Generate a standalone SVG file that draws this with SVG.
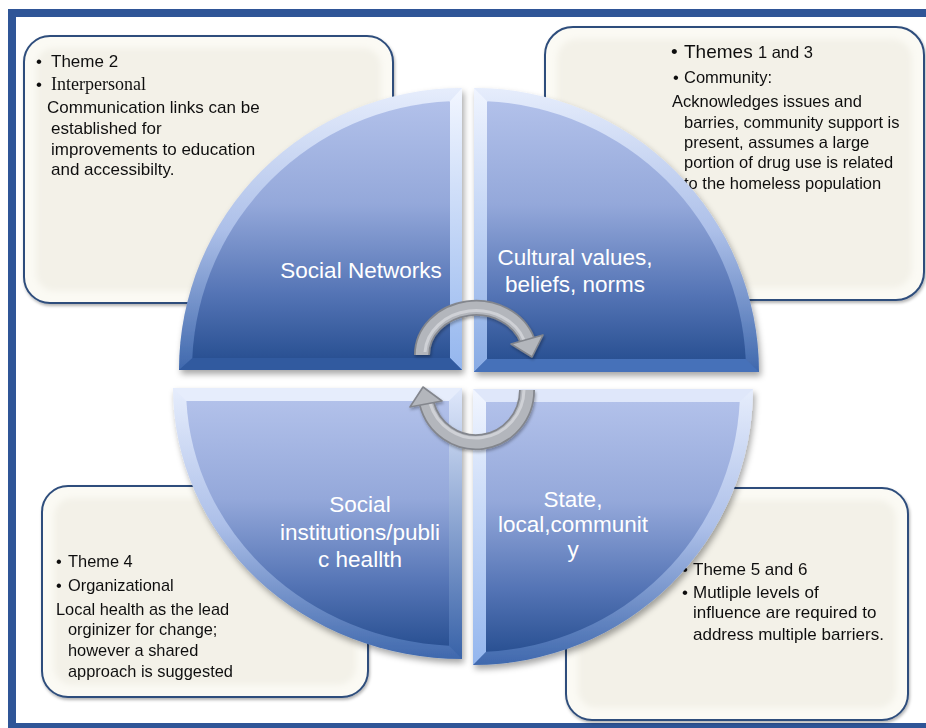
<svg xmlns="http://www.w3.org/2000/svg" width="926" height="728" viewBox="0 0 926 728">
  <style>
    .frame { fill: #2f5597; }
    .box-outer { fill: #fbfaf4; stroke: #2f4e7c; stroke-width: 2; }
    .box-inner { fill: #f3f1e8; }
    .note { font-family: "Liberation Sans", Arial, sans-serif; fill: #111; }
    .serif { font-family: "Liberation Serif", "Times New Roman", serif; }
    .label { font-family: "Liberation Sans", Arial, sans-serif; font-size: 22.5px; fill: #ffffff; text-anchor: middle; }
    .arrow-base { fill: none; stroke: #83868d; stroke-width: 16; }
    .arrow-body { fill: none; stroke: #b3b6bc; stroke-width: 12.5; }
    .arrow-glint { fill: none; stroke: #cfd1d6; stroke-width: 3; }
    .arrow-head { fill: #b3b6bc; stroke: #83868d; stroke-width: 1.6; stroke-linejoin: round; }
  </style>
  <defs>
    <linearGradient id="quadFill" x1="0" y1="0" x2="0" y2="1">
      <stop offset="0" stop-color="#b2c1ea"/>
      <stop offset="0.4" stop-color="#94a8da"/>
      <stop offset="0.75" stop-color="#5474b5"/>
      <stop offset="1" stop-color="#2a5193"/>
    </linearGradient>
    <linearGradient id="quadBevel" x1="0" y1="0" x2="0" y2="1">
      <stop offset="0" stop-color="#e6edfc"/>
      <stop offset="0.5" stop-color="#adc0e9"/>
      <stop offset="1" stop-color="#3f68ad"/>
    </linearGradient>
    <linearGradient id="glintBright" x1="0" y1="0" x2="0" y2="1">
      <stop offset="0" stop-color="#f2f6ff"/>
      <stop offset="1" stop-color="#94b6ee"/>
    </linearGradient>
    <linearGradient id="glintFade" x1="0" y1="0" x2="0" y2="1">
      <stop offset="0" stop-color="#dfe8fb"/>
      <stop offset="1" stop-color="#3862a8"/>
    </linearGradient>
    <filter id="quadShadow" x="-10%" y="-10%" width="125%" height="125%">
      <feDropShadow dx="2" dy="4" stdDeviation="3" flood-color="#000" flood-opacity="0.35"/>
    </filter>
    <filter id="boxShadow" x="-5%" y="-5%" width="112%" height="112%">
      <feDropShadow dx="1" dy="2" stdDeviation="1.5" flood-color="#000" flood-opacity="0.3"/>
    </filter>
    <filter id="soften" x="-5%" y="-5%" width="110%" height="110%">
      <feGaussianBlur stdDeviation="3"/>
    </filter>
    <filter id="arrowShadow" x="-20%" y="-20%" width="140%" height="140%">
      <feDropShadow dx="1" dy="2" stdDeviation="1.5" flood-color="#000" flood-opacity="0.3"/>
    </filter>
  </defs>

  <rect width="926" height="728" fill="#ffffff"/>

  <!-- page border -->
  <g id="frame">
    <rect class="frame" x="8" y="9" width="918" height="8"/>
    <rect class="frame" x="8" y="9" width="8" height="719"/>
    <rect class="frame" x="8" y="723" width="918" height="5"/>
  </g>

  <!-- note boxes -->
  <g id="note-interpersonal" filter="url(#boxShadow)">
    <rect class="box-outer" x="24" y="36" width="369" height="267" rx="26"/>
    <rect class="box-inner" x="36" y="48" width="345" height="243" rx="18" filter="url(#soften)"/>
    <g class="note" font-size="17">
      <text x="36" y="67">•</text>
      <text x="51" y="67">Theme 2</text>
      <text x="36" y="90">•</text>
      <text x="51" y="90" class="serif" font-size="18">Interpersonal</text>
      <text x="47" y="113">Communication links can be</text>
      <text x="51" y="134">established for</text>
      <text x="51" y="155">improvements to education</text>
      <text x="51" y="175">and accessibilty.</text>
    </g>
  </g>

  <g id="note-community" filter="url(#boxShadow)">
    <rect class="box-outer" x="545" y="27" width="379" height="273" rx="28"/>
    <rect class="box-inner" x="557" y="39" width="355" height="249" rx="20" filter="url(#soften)"/>
    <g class="note" font-size="16.5">
      <text x="671" y="58" font-size="19">•</text>
      <text x="684" y="58"><tspan font-size="19">Themes </tspan>1 and 3</text>
      <text x="673" y="83">•</text>
      <text x="684" y="83">Community:</text>
      <text x="672" y="107">Acknowledges issues and</text>
      <text x="684" y="128">barries, community support is</text>
      <text x="684" y="148">present, assumes a large</text>
      <text x="684" y="168">portion of drug use is related</text>
      <text x="684" y="189">to the homeless population</text>
    </g>
  </g>

  <g id="note-organizational" filter="url(#boxShadow)">
    <rect class="box-outer" x="42" y="486" width="326" height="211" rx="26"/>
    <rect class="box-inner" x="54" y="498" width="302" height="187" rx="18" filter="url(#soften)"/>
    <g class="note" font-size="16.4">
      <text x="56" y="567">•</text>
      <text x="68" y="567">Theme 4</text>
      <text x="56" y="591">•</text>
      <text x="68" y="591">Organizational</text>
      <text x="56" y="615">Local health as the lead</text>
      <text x="68" y="635">orginizer for change;</text>
      <text x="68" y="656">however a shared</text>
      <text x="68" y="677">approach is suggested</text>
    </g>
  </g>

  <g id="note-multilevel" filter="url(#boxShadow)">
    <rect class="box-outer" x="566" y="488" width="342" height="232" rx="26"/>
    <rect class="box-inner" x="578" y="500" width="318" height="208" rx="18" filter="url(#soften)"/>
    <g class="note" font-size="17">
      <text x="682" y="575">•</text>
      <text x="693" y="575">Theme 5 and 6</text>
      <text x="682" y="598">•</text>
      <text x="693" y="598">Mutliple levels of</text>
      <text x="693" y="618">influence are required to</text>
      <text x="693" y="640">address multiple barriers.</text>
    </g>
  </g>

  <!-- quadrants of the circle -->
  <g id="quadrant-social-networks">
    <path d="M462,370 L179,370 A283,282 0 0 1 462,88 Z" fill="url(#quadBevel)" filter="url(#quadShadow)"/>
    <path d="M450,358 L192.3,358 A270,269 0 0 1 450,101.3 Z" fill="url(#quadFill)"/>
    <polygon points="450,101.3 462,88 462,370 450,358" fill="url(#glintBright)"/>
    <polygon points="179,370 462,370 450,358 192.3,358" fill="#315a9f"/>
    <text class="label" x="361" y="278">Social Networks</text>
  </g>

  <g id="quadrant-cultural-values">
    <path d="M474,372 L474,88 A285,284 0 0 1 759,372 Z" fill="url(#quadBevel)" filter="url(#quadShadow)"/>
    <path d="M487,359 L487,101.3 A272,271 0 0 1 745.7,359 Z" fill="url(#quadFill)"/>
    <polygon points="474,88 487,101.3 487,359 474,372" fill="url(#glintBright)" opacity="0.85"/>
    <polygon points="474,372 759,372 745.7,359 487,359" fill="#4671b9"/>
    <text class="label" x="575" y="265">Cultural values,</text>
    <text class="label" x="575" y="292">beliefs, norms</text>
  </g>

  <g id="quadrant-social-institutions">
    <path d="M462,388 L462,659 A289,271 0 0 1 173,388 Z" fill="url(#quadBevel)" filter="url(#quadShadow)"/>
    <path d="M449,401 L449,645.7 A276,258 0 0 1 186.4,401 Z" fill="url(#quadFill)"/>
    <polygon points="173,388 462,388 449,401 186.4,401" fill="#e6edfc"/>
    <polygon points="449,401 462,388 462,659 449,645.7" fill="url(#glintFade)"/>
    <text class="label" x="360" y="512">Social</text>
    <text class="label" x="360" y="540">institutions/publi</text>
    <text class="label" x="360" y="567">c heallth</text>
  </g>

  <g id="quadrant-state-local">
    <path d="M473,389 L753,389 A280,276 0 0 1 473,665 Z" fill="url(#quadBevel)" filter="url(#quadShadow)"/>
    <path d="M486,402 L739.7,402 A267,263 0 0 1 486,651.7 Z" fill="url(#quadFill)"/>
    <polygon points="473,389 753,389 739.7,402 486,402" fill="#dfe7fa"/>
    <polygon points="473,389 486,402 486,651.7 473,665" fill="url(#glintBright)"/>
    <text class="label" x="573" y="507">State,</text>
    <text class="label" x="573" y="532">local,communit</text>
    <text class="label" x="573" y="557">y</text>
  </g>

  <!-- cycle arrows -->
  <g id="connectors" filter="url(#arrowShadow)">
    <g id="arrow-clockwise-top">
      <path class="arrow-base" d="M422,355 A54,47 0 0 1 527.4,340.5"/>
      <path class="arrow-body" d="M422,355 A54,47 0 0 1 527.4,340.5"/>
      <path class="arrow-glint" d="M425,352 A51,44 0 0 1 524,340"/>
      <polygon class="arrow-head" points="511,344 543,335 532,357"/>
    </g>
    <g id="arrow-clockwise-bottom">
      <path class="arrow-base" d="M527,390 A51,52 0 0 1 426.7,403.5"/>
      <path class="arrow-body" d="M527,390 A51,52 0 0 1 426.7,403.5"/>
      <path class="arrow-glint" d="M524,390 A48,49 0 0 1 430,403"/>
      <polygon class="arrow-head" points="442,401 410,407 423,387"/>
    </g>
  </g>
</svg>
